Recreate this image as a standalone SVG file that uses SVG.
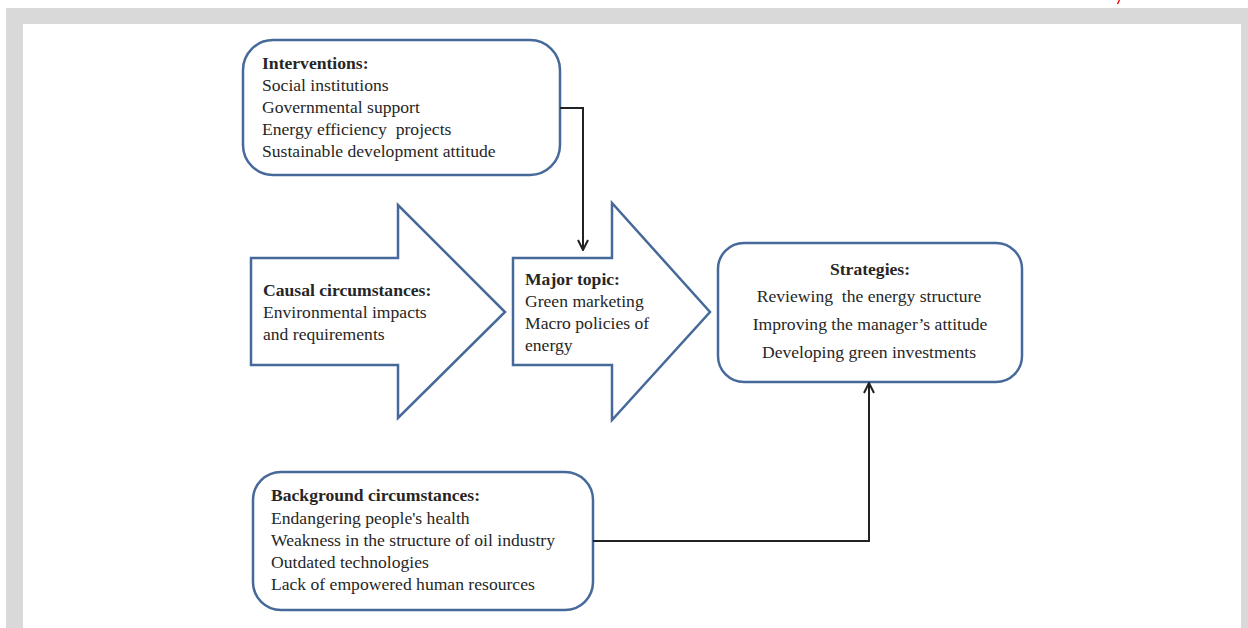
<svg xmlns="http://www.w3.org/2000/svg" width="1248" height="628" viewBox="0 0 1248 628">
<style>
.shape{fill:#ffffff;stroke:#46699a;stroke-width:2.5;stroke-linejoin:miter}
.t{font-family:"Liberation Serif","Times New Roman",serif;font-size:17.6px;fill:#262626}
.b{font-weight:bold}
.c{text-anchor:middle}
.conn{fill:none;stroke:#222222;stroke-width:2}
</style>
<defs>
<marker id="ah" viewBox="0 0 12 12" refX="11" refY="6" markerWidth="12" markerHeight="12" markerUnits="userSpaceOnUse" orient="auto">
<path d="M1,1 L11,6 L1,11" fill="none" stroke="#222222" stroke-width="2"/>
</marker>
</defs>
<rect x="0" y="0" width="1248" height="628" fill="#ffffff"/>
<path d="M6,8 H1248 V628 H1241 V24 H23 V628 H6 Z" fill="#d9d9d9"/>
<path d="M1119.5,0 L1117.5,4" stroke="#ee1111" stroke-width="1.5"/>
<g id="interventions">
<rect class="shape" x="243" y="40" width="317" height="135" rx="30" ry="30"/>
<text class="t b" x="262" y="69">Interventions:</text>
<text class="t" x="262" y="91">Social institutions</text>
<text class="t" x="262" y="113">Governmental support</text>
<text class="t" x="262" y="135" xml:space="preserve">Energy efficiency  projects</text>
<text class="t" x="262" y="157">Sustainable development attitude</text>
</g>
<g id="causal">
<path class="shape" d="M251,258 H398 V205 L505,312 L398,418 V365 H251 Z"/>
<text class="t b" x="263" y="296">Causal circumstances:</text>
<text class="t" x="263" y="318">Environmental impacts</text>
<text class="t" x="263" y="340">and requirements</text>
</g>
<g id="major">
<path class="shape" d="M513,258 H612 V203 L710,312 L612,420 V365 H513 Z"/>
<text class="t b" x="525" y="285">Major topic:</text>
<text class="t" x="525" y="307">Green marketing</text>
<text class="t" x="525" y="329">Macro policies of</text>
<text class="t" x="525" y="351">energy</text>
</g>
<g id="strategies">
<rect class="shape" x="718" y="243" width="304" height="139" rx="26" ry="26"/>
<text class="t b c" x="870" y="275">Strategies:</text>
<text class="t c" x="869" y="302" xml:space="preserve">Reviewing  the energy structure</text>
<text class="t c" x="870" y="330">Improving the manager’s attitude</text>
<text class="t c" x="869" y="358">Developing green investments</text>
</g>
<g id="background">
<rect class="shape" x="253" y="472" width="340" height="138" rx="28" ry="28"/>
<text class="t b" x="271" y="501">Background circumstances:</text>
<text class="t" x="271" y="524">Endangering people's health</text>
<text class="t" x="271" y="546">Weakness in the structure of oil industry</text>
<text class="t" x="271" y="568">Outdated technologies</text>
<text class="t" x="271" y="590">Lack of empowered human resources</text>
</g>
<g id="connectors">
<path class="conn" d="M560,108 H583 V250" marker-end="url(#ah)"/>
<path class="conn" d="M593,541 H869 V383" marker-end="url(#ah)"/>
</g>
</svg>
